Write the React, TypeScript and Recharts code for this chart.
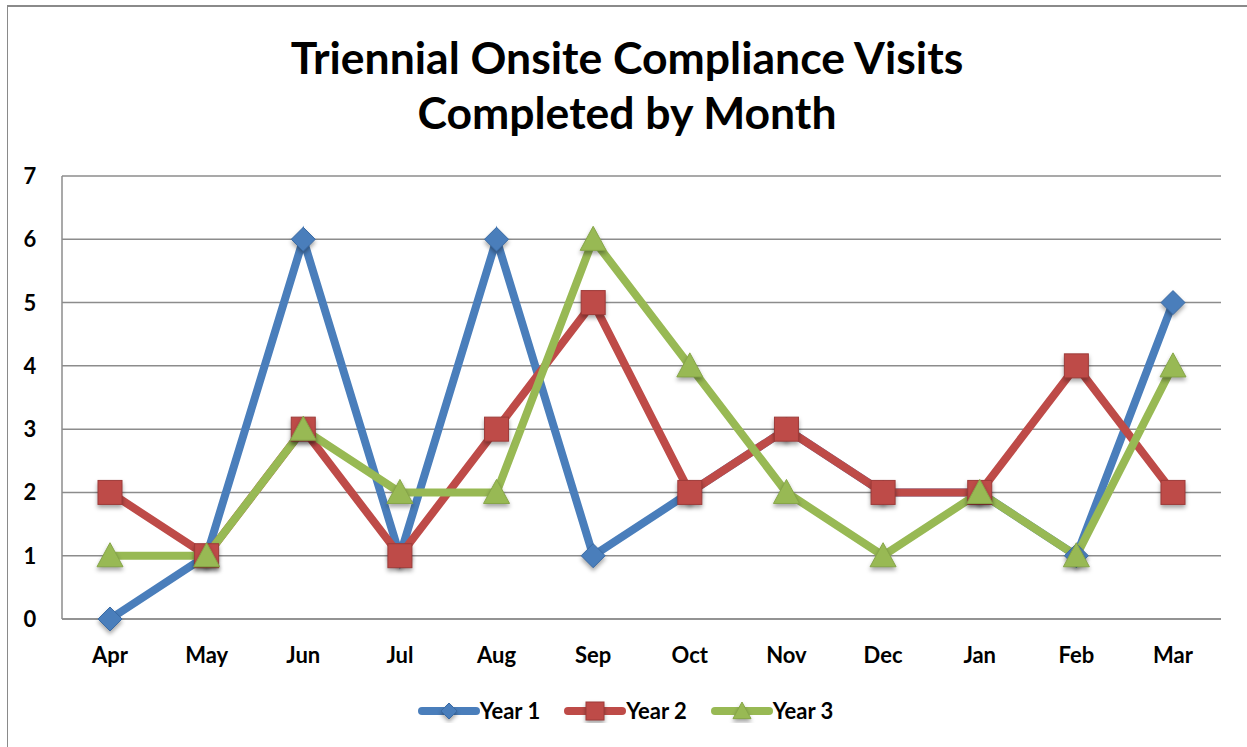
import { LineChart, Line, XAxis, YAxis, CartesianGrid, Legend } from 'recharts'

const months = ['Apr', 'May', 'Jun', 'Jul', 'Aug', 'Sep', 'Oct', 'Nov', 'Dec', 'Jan', 'Feb', 'Mar']
const year1 = [0, 1, 6, 1, 6, 1, 2, 3, 2, 2, 1, 5]
const year2 = [2, 1, 3, 1, 3, 5, 2, 3, 2, 2, 4, 2]
const year3 = [1, 1, 3, 2, 2, 6, 4, 2, 1, 2, 1, 4]
const yTicks = [0, 1, 2, 3, 4, 5, 6, 7]

const BLUE = '#4A7EBB'
const RED = '#BE4B48'
const GREEN = '#98B954'
const FONT = 'Lato, "Open Sans", sans-serif'

const data = months.map((m, i) => ({ month: m, y1: year1[i], y2: year2[i], y3: year3[i] }))

const shadow = { filter: 'drop-shadow(0px 3px 2px rgba(0,0,0,0.35))' }

const Diamond = ({ cx, cy, size = 12 }: any) => (
  <path
    d={`M${cx},${cy - size} L${cx + size},${cy} L${cx},${cy + size} L${cx - size},${cy} Z`}
    fill={BLUE} stroke="#3A6BA5" strokeWidth={1} style={shadow}
  />
)
const Square = ({ cx, cy, size = 12 }: any) => (
  <rect x={cx - size} y={cy - size} width={size * 2} height={size * 2}
    fill={RED} stroke="#9E3B39" strokeWidth={1} style={shadow} />
)
const Triangle = ({ cx, cy, size = 13 }: any) => (
  <path
    d={`M${cx},${cy - size} L${cx + size},${cy + size * 0.85} L${cx - size},${cy + size * 0.85} Z`}
    fill={GREEN} stroke="#86A648" strokeWidth={1} style={shadow}
  />
)

const XTick = ({ x, y, payload }: any) => (
  <text x={x} y={y + 44} textAnchor="middle" fontFamily={FONT} fontWeight={700} fontSize={22} fill="#000">
    {payload.value}
  </text>
)
const YTick = ({ y, payload }: any) => (
  <text x={30} y={y + 8} textAnchor="middle" fontFamily={FONT} fontWeight={700} fontSize={22} fill="#000">
    {payload.value}
  </text>
)

const legendItems = [
  { label: 'Year 1', color: BLUE, Mark: Diamond, size: 8 },
  { label: 'Year 2', color: RED, Mark: Square, size: 9 },
  { label: 'Year 3', color: GREEN, Mark: Triangle, size: 9 },
]

const LegendContent = () => (
  <div style={{ display: 'flex', justifyContent: 'center', gap: 24, paddingLeft: 4 }}>
    {legendItems.map(it => (
      <div key={it.label} style={{ display: 'flex', alignItems: 'center' }}>
        <svg width={62} height={24}>
          <line x1={4} y1={12} x2={58} y2={12} stroke={it.color} strokeWidth={8} strokeLinecap="round" />
          <it.Mark cx={31} cy={12} size={it.size} />
        </svg>
        <span style={{ fontFamily: FONT, fontWeight: 700, fontSize: 22, color: '#000' }}>{it.label}</span>
      </div>
    ))}
  </div>
)

export default function App() {
  return (
    <div style={{ position: 'fixed', left: 0, top: 0, width: 1247, height: 747, background: '#fff', overflow: 'hidden' }}>
      {/* frame of the chart object */}
      <div style={{ position: 'absolute', left: 7, top: 5, right: -10, bottom: -10, borderTop: '2px solid #8a8a8a', borderLeft: '1px solid #8a8a8a' }} />

      <div style={{
        position: 'absolute', left: 0, top: 29, width: 1254, textAlign: 'center',
        fontFamily: FONT, fontWeight: 700, fontSize: 44.5, lineHeight: '55px', color: '#000',
      }}>
        <div>Triennial Onsite Compliance Visits</div>
        <div>Completed by Month</div>
      </div>

      <div style={{ position: 'absolute', left: 0, top: 0 }}>
        <LineChart width={1247} height={747} data={data} margin={{ top: 176, right: 26, left: 0, bottom: 88 }}>
          <CartesianGrid vertical={false} stroke="#8c8c8c" strokeWidth={1.5} />
          <XAxis dataKey="month" padding={{ left: 48, right: 48 }} height={40}
            axisLine={{ stroke: '#8c8c8c', strokeWidth: 1.5 }} tickLine={false} tickSize={0} tickMargin={0}
            tick={<XTick />} interval={0} />
          <YAxis width={62} domain={[0, 7]} ticks={yTicks} interval={0}
            axisLine={{ stroke: '#8c8c8c', strokeWidth: 1.5 }} tickLine={false} tick={<YTick />} />
          <Legend layout="horizontal" verticalAlign="middle" align="center"
            wrapperStyle={{ top: 697, left: 0, width: 1247 }} content={<LegendContent />} />
          <Line dataKey="y1" name="Year 1" stroke={BLUE} strokeWidth={8} isAnimationActive={false}
            dot={(p: any) => <Diamond key={p.index} cx={p.cx} cy={p.cy} />} activeDot={false} />
          <Line dataKey="y2" name="Year 2" stroke={RED} strokeWidth={8} isAnimationActive={false}
            dot={(p: any) => <Square key={p.index} cx={p.cx} cy={p.cy} />} activeDot={false} />
          <Line dataKey="y3" name="Year 3" stroke={GREEN} strokeWidth={8} isAnimationActive={false}
            dot={(p: any) => <Triangle key={p.index} cx={p.cx} cy={p.cy} />} activeDot={false} />
        </LineChart>
      </div>
    </div>
  )
}
